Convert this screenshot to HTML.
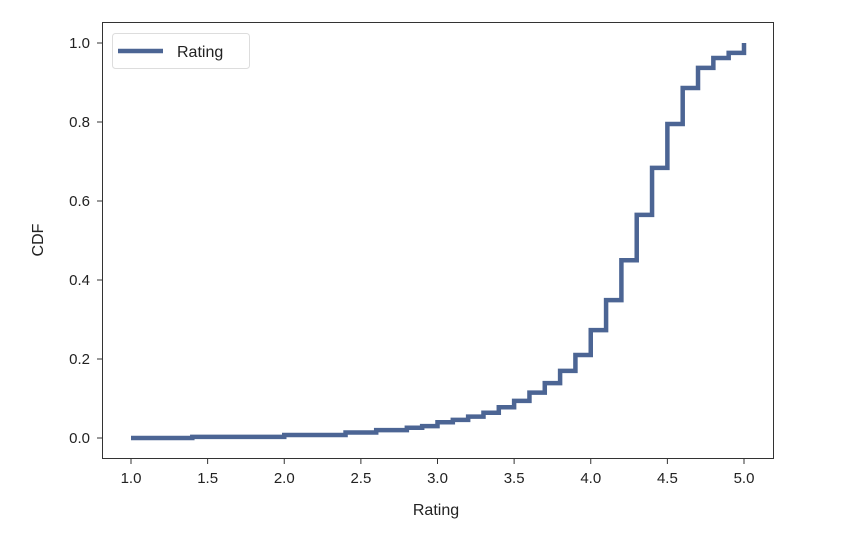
<!DOCTYPE html>
<html><head><meta charset="utf-8"><style>
html,body{margin:0;padding:0;background:#fff;}
svg text{font-family:"Liberation Sans","DejaVu Sans",sans-serif;fill:#222;}
</style></head><body>
<svg id="chart" width="842" height="546" viewBox="0 0 842 546">
<rect x="102.5" y="22.5" width="671" height="436" fill="none" stroke="#333" stroke-width="1"/>
<g id="xticks"></g>
<g id="yticks"></g>
<path id="series" fill="none" stroke="#4c6594" stroke-width="4.5" stroke-linejoin="miter"/>
<g>
<rect x="112.5" y="33.5" width="137" height="35" rx="3" fill="#fff" stroke="#ddd"/>
<line x1="118" y1="51" x2="163" y2="51" stroke="#4c6594" stroke-width="4.5"/>
<text x="177" y="57" font-size="16">Rating</text>
</g>
<text x="436" y="515" font-size="16" text-anchor="middle">Rating</text>
<text transform="translate(43,240) rotate(-90)" font-size="16" text-anchor="middle">CDF</text>
</svg>
<script>
const xs = [1.0,1.4,2.0,2.4,2.6,2.8,2.9,3.0,3.1,3.2,3.3,3.4,3.5,3.6,3.7,3.8,3.9,4.0,4.1,4.2,4.3,4.4,4.5,4.6,4.7,4.8,4.9,5.0];
const cdf = [0,0.003,0.0076,0.014,0.02,0.026,0.03,0.04,0.046,0.054,0.064,0.078,0.094,0.115,0.139,0.17,0.21,0.273,0.349,0.45,0.565,0.684,0.795,0.886,0.937,0.962,0.975,1.0];
const xTickLabels = ["1.0","1.5","2.0","2.5","3.0","3.5","4.0","4.5","5.0"];
const yTickLabels = ["0.0","0.2","0.4","0.6","0.8","1.0"];
const X = v => 131 + (v - 1) * 153.25;
const Y = v => 438 - v * 395;
const NS = "http://www.w3.org/2000/svg";
let d = "M" + X(xs[0]) + "," + Y(cdf[0]);
for (let i = 1; i < xs.length; i++) {
  d += " H" + X(xs[i]) + " V" + Y(cdf[i]);
}
document.getElementById("series").setAttribute("d", d);
const xg = document.getElementById("xticks");
xTickLabels.forEach(t => {
  const x = X(parseFloat(t));
  const l = document.createElementNS(NS, "line");
  l.setAttribute("x1", x); l.setAttribute("x2", x); l.setAttribute("y1", 459); l.setAttribute("y2", 464);
  l.setAttribute("stroke", "#333");
  
  
  xg.appendChild(l);
  const tx = document.createElementNS(NS, "text");
  tx.setAttribute("x", x); tx.setAttribute("y", 483); tx.setAttribute("font-size", "15"); tx.setAttribute("text-anchor", "middle");
  tx.textContent = t;
  
  
  xg.appendChild(tx);
});
const yg = document.getElementById("yticks");
yTickLabels.forEach(t => {
  const y = Y(parseFloat(t));
  const l = document.createElementNS(NS, "line");
  l.setAttribute("x1", 97); l.setAttribute("x2", 102); l.setAttribute("y1", y); l.setAttribute("y2", y);
  l.setAttribute("stroke", "#333");
  
  
  yg.appendChild(l);
  const tx = document.createElementNS(NS, "text");
  tx.setAttribute("x", 90); tx.setAttribute("y", y + 5); tx.setAttribute("font-size", "15"); tx.setAttribute("text-anchor", "end");
  tx.textContent = t;
  
  
  yg.appendChild(tx);
});
</script>
</body></html>
